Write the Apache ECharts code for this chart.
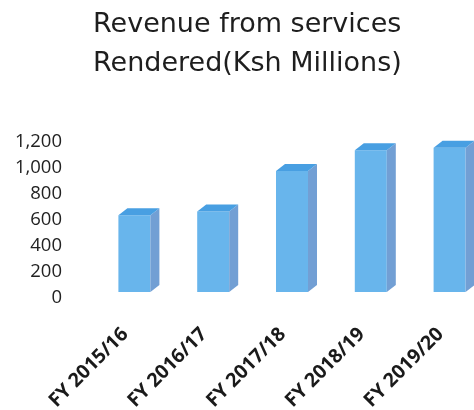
<!DOCTYPE html>
<html>
<head>
<meta charset="utf-8">
<script src="https://cdn.jsdelivr.net/npm/echarts@6/dist/echarts.min.js"></script>
<style>
    html, body { margin: 0; padding: 0; background: #fff; }
    #chart01 { width: 474px; height: 410px; }
</style>
</head>
<body>
<div id="chart01"></div>
<script>
var categories = ['FY 2015/16', 'FY 2016/17', 'FY 2017/18', 'FY 2018/19', 'FY 2019/20'];
var revenue = [590, 620, 930, 1090, 1110];
var yTicks = [0, 200, 400, 600, 800, 1000, 1200];

function chart01(id) {
    var myChart = echarts.init(document.getElementById(id));
    var barW = 32, lift = 6, dx = 9, dy = 7;   // 3d look of the columns
    var option = {
        animation: false,
        title: {
            text: 'Revenue from services\nRendered(Ksh Millions)',
            left: 88,
            top: 0,
            textStyle: {
                fontFamily: 'DejaVu Sans',
                fontWeight: 'normal',
                fontSize: 27,
                lineHeight: 39,
                color: '#1e1e1e'
            }
        },
        grid: {
            left: 95,
            width: 394,
            top: 142,
            bottom: 112,
            outerBoundsMode: 'none',
            containLabel: false
        },
        xAxis: {
            type: 'category',
            data: categories,
            axisLine: { show: false },
            axisTick: { show: false },
            axisLabel: {
                rotate: 45,
                interval: 0,
                margin: 24,
                padding: [0, 13, 0, 0],
                fontFamily: 'Open Sans',
                fontWeight: 'bold',
                fontSize: 19.5,
                color: '#1a1a1a'
            }
        },
        yAxis: {
            type: 'value',
            min: yTicks[0],
            max: yTicks[yTicks.length - 1],
            interval: yTicks[1] - yTicks[0],
            axisLine: { show: false },
            axisTick: { show: false },
            splitLine: { show: false },
            axisLabel: {
                margin: 33,
                fontFamily: 'Open Sans',
                fontSize: 18.5,
                color: '#222222',
                formatter: function (v) {
                    return v.toLocaleString('en-US');
                }
            }
        },
        series: [
            {
                type: 'custom',
                data: revenue.map(function (v, i) { return [i, v]; }),
                renderItem: function (params, api) {
                    var top = api.coord([api.value(0), api.value(1)]);
                    var base = api.coord([api.value(0), 0]);
                    var x0 = top[0] - barW / 2, x1 = top[0] + barW / 2;
                    var yt = top[1] - lift, yb = base[1] - lift;
                    return {
                        type: 'group',
                        children: [
                            {
                                type: 'rect',
                                shape: { x: x0, y: yt, width: barW, height: yb - yt },
                                style: { fill: '#68b5ec' }
                            },
                            {
                                type: 'polygon',
                                shape: { points: [[x1, yt], [x1 + dx, yt - dy], [x1 + dx, yb - dy], [x1, yb]] },
                                style: { fill: '#729fd4' }
                            },
                            {
                                type: 'polygon',
                                shape: { points: [[x0, yt], [x0 + dx, yt - dy], [x1 + dx, yt - dy], [x1, yt]] },
                                style: { fill: '#489fe2' }
                            }
                        ]
                    };
                }
            }
        ]
    };

    myChart.setOption(option);
    return myChart;
}

var chartInit01 = chart01('chart01');
window.addEventListener('resize', function () {
    chartInit01.resize();
});
</script>
</body>
</html>
